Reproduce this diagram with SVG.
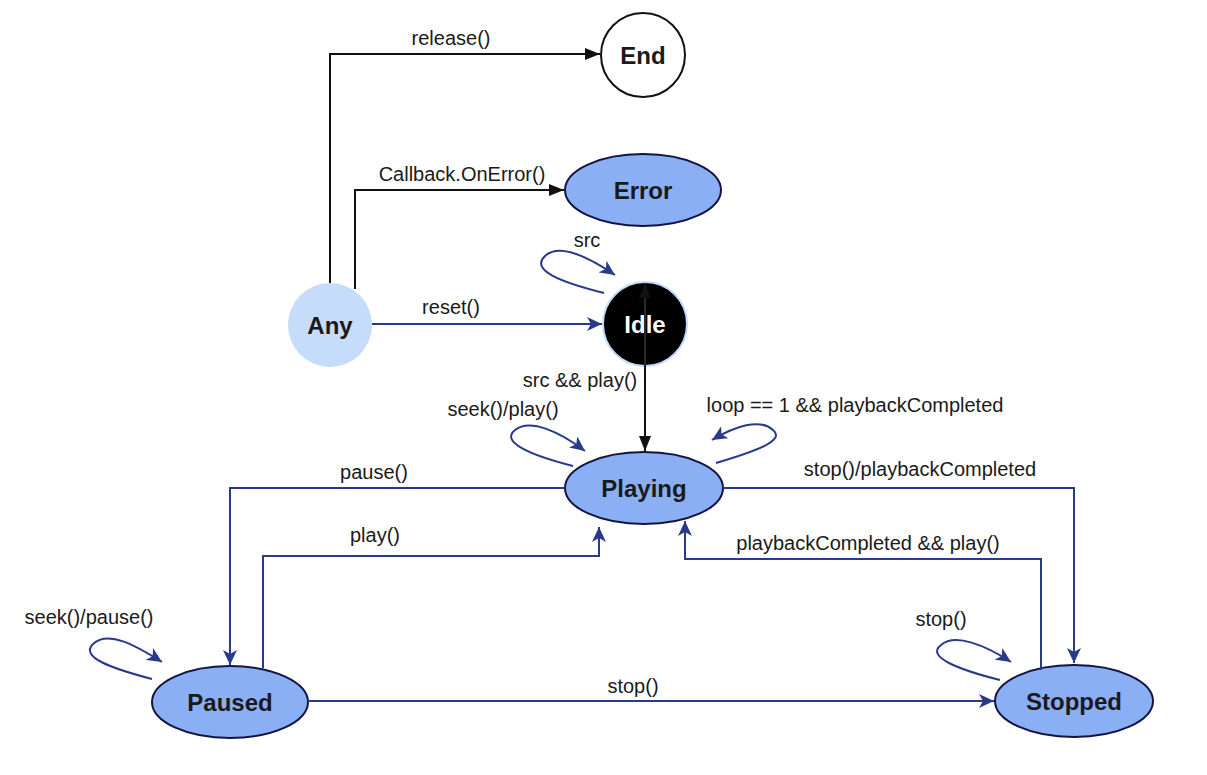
<svg xmlns="http://www.w3.org/2000/svg" width="1207" height="775" viewBox="0 0 1207 775">
<style>
.lbl{font-family:"Liberation Sans",Arial,sans-serif;font-size:20px;fill:#1a1a1a;text-anchor:middle}
.nl{font-family:"Liberation Sans",Arial,sans-serif;font-size:24px;font-weight:bold;fill:#1a1a1a;text-anchor:middle;dominant-baseline:central}
.st{fill:#8aaff5;stroke:#13143f;stroke-width:2}
.nv{fill:none;stroke:#283a8c;stroke-width:2}
.bk{fill:none;stroke:#111;stroke-width:2}
</style>
<defs>
<marker id="an" markerUnits="userSpaceOnUse" markerWidth="16" markerHeight="14" viewBox="0 0 16 14" refX="15" refY="7" orient="auto">
<path d="M0,0 L15,7 L0,14 L4,7 z" fill="#283a8c"/>
</marker>
<marker id="ab" markerUnits="userSpaceOnUse" markerWidth="16" markerHeight="14" viewBox="0 0 16 14" refX="15" refY="7" orient="auto">
<path d="M0,1 L15,7 L0,13 z" fill="#111"/>
</marker>
</defs>
<rect width="1207" height="775" fill="#fff"/>
<g id="nodes">
<g id="end"><circle cx="643" cy="55" r="42" fill="#fff" stroke="#111" stroke-width="2"/><text class="nl" x="643" y="55">End</text></g>
<g id="error"><ellipse class="st" cx="643" cy="190" rx="78" ry="36"/><text class="nl" x="643" y="190">Error</text></g>
<g id="idle"><circle cx="645" cy="324" r="42" fill="#000" stroke="#c5dbfb" stroke-width="2"/><text class="nl" x="645" y="324" style="fill:#fff">Idle</text></g>
<g id="any"><circle cx="330" cy="325" r="42" fill="#c6dcfb"/><text class="nl" x="330" y="325">Any</text></g>
<g id="playing"><ellipse class="st" cx="644" cy="488" rx="79" ry="36"/><text class="nl" x="644" y="488">Playing</text></g>
<g id="paused"><ellipse class="st" cx="230" cy="702" rx="78" ry="36"/><text class="nl" x="230" y="702">Paused</text></g>
<g id="stopped"><ellipse class="st" cx="1074" cy="701" rx="79" ry="36"/><text class="nl" x="1074" y="701">Stopped</text></g>
</g>
<g id="connectors">
<path class="bk" d="M330,283 V54 H600" marker-end="url(#ab)"/>
<text class="lbl" x="451" y="45">release()</text>
<path class="bk" d="M355,289 V190 H564" marker-end="url(#ab)"/>
<text class="lbl" x="462" y="181">Callback.OnError()</text>
<path class="nv" d="M372,324 H602" marker-end="url(#an)"/>
<text class="lbl" x="451" y="314">reset()</text>
<path class="nv" d="M604,293 C560,282 530,270 545,256 C560,242 590,258 615,275" marker-end="url(#an)"/>
<text class="lbl" x="587" y="247">src</text>
<path d="M645,366 V451" stroke="#111" stroke-width="2" fill="none" marker-end="url(#ab)"/>
<path d="M645,366 V283" stroke="#2a2a2a" stroke-width="2" fill="none" marker-end="url(#ab)"/>
<text class="lbl" x="580" y="387">src &amp;&amp; play()</text>
<path class="nv" d="M573,466 C530,455 500,442 515,430 C530,418 560,432 585,451" marker-end="url(#an)"/>
<text class="lbl" x="503" y="416">seek()/play()</text>
<path class="nv" d="M716,463 C760,450 785,440 773,430 C760,418 735,426 712,440" marker-end="url(#an)"/>
<text class="lbl" x="855" y="412">loop == 1 &amp;&amp; playbackCompleted</text>
<path class="nv" d="M565,488 H230 V665" marker-end="url(#an)"/>
<text class="lbl" x="374" y="479">pause()</text>
<path class="nv" d="M263,668 V556 H599 V527" marker-end="url(#an)"/>
<text class="lbl" x="375" y="542">play()</text>
<path class="nv" d="M723,488 H1074 V663" marker-end="url(#an)"/>
<text class="lbl" x="920" y="476">stop()/playbackCompleted</text>
<path class="nv" d="M1041,670 V559 H685 V521" marker-end="url(#an)"/>
<text class="lbl" x="868" y="550">playbackCompleted &amp;&amp; play()</text>
<path class="nv" d="M152,679 C110,668 80,657 93,644 C108,630 135,645 162,662" marker-end="url(#an)"/>
<text class="lbl" x="89" y="624">seek()/pause()</text>
<path class="nv" d="M1000,680 C960,670 925,657 941,645 C955,633 985,645 1011,662" marker-end="url(#an)"/>
<text class="lbl" x="941" y="626">stop()</text>
<path class="nv" d="M308,701 H994" marker-end="url(#an)"/>
<text class="lbl" x="633" y="693">stop()</text>
</g>
</svg>
